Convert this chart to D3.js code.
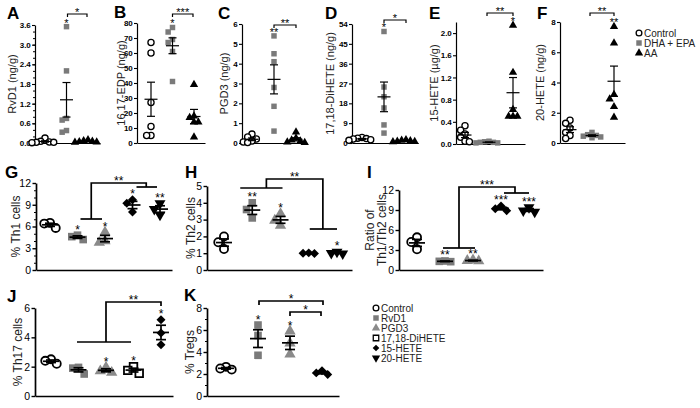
<!DOCTYPE html>
<html><head><meta charset="utf-8">
<script src="https://cdn.jsdelivr.net/npm/d3@7"></script>
<style>body{margin:0;background:#fff}svg{display:block}</style>
</head><body><svg id="c" width="700" height="408"></svg>
<script>
// ---------------- DATA ----------------
const topGroups = ["Control", "DHA + EPA", "AA"];
const ghiGroups = ["Control", "RvD1", "PGD3", "15-HETE", "20-HETE"];
const jGroups = ["Control", "RvD1", "PGD3", "17,18-DiHETE", "15-HETE"];
const kGroups = ["Control", "RvD1", "PGD3", "15-HETE"];
const legendTop = ["Control", "DHA + EPA", "AA"];
const legendBottom = ["Control", "RvD1", "PGD3", "17,18-DiHETE", "15-HETE", "20-HETE"];

// A: RvD1 (ng/g)
const rvd1Values = [[0.15, 0.05, 0.03, 0.02, 0.02, 0.01], [3.55, 2.2, 0.75, 0.7, 0.38, 0.33], [0.1, 0.07, 0.05, 0.04, 0.03, 0.02]];
// B: 16,17-EDP (ng/g)
const edpValues = [[67, 60, 27, 11, 5, 5], [77, 74, 69, 67, 61, 41], [39, 18, 17, 14, 14, 4]];
// C: PGD3 (ng/g)
const pgd3Values = [[0.45, 0.3, 0.2, 0.1, 0.05, 0.02], [5.4, 4.5, 4.1, 2.8, 1.85, 0.6], [0.55, 0.25, 0.15, 0.1, 0.05, 0.02]];
// D: 17,18-DiHETE (ng/g)
const diheteValues = [[2.5, 2.2, 2.0, 1.8, 1.5, 1.2], [50.6, 25.4, 21, 15.9, 8.2, 4.5], [1.5, 1.2, 1.0, 0.8, 0.6, 0.5]];
// E: 15-HETE (ug/g)
const hete15Values = [[0.33, 0.25, 0.18, 0.12, 0.05, 0.04], [0.05, 0.04, 0.03, 0.03, 0.02, 0.02], [2.14, 1.29, 0.62, 0.5, 0.5, 0.5]];
// F: 20-HETE (ng/g)
const hete20Values = [[1.5, 1.3, 1.0, 0.7, 0.5, 0.3], [0.7, 0.55, 0.5, 0.45, 0.4, 0.35], [7.7, 6.6, 3.2, 2.9, 2.4, 1.7]];
// G: % Th1 cells
const th1Values = [[6.5, 6.4, 5.8], [4.8, 4.6, 4.2], [5.2, 4.0, 3.8], [9.7, 9.2, 8.0], [9.2, 8.4, 7.6]];
// H: % Th2 cells
const th2Values = [[2.0, 1.65, 1.25], [4.0, 3.6, 3.1], [3.35, 2.95, 2.65], [1.02, 1.0, 0.98], [1.08, 1.0, 0.97]];
// I: Ratio Th1/Th2
const ratioValues = [[4.9, 4.2, 3.1], [1.35, 1.3, 1.25], [1.5, 1.4, 1.35], [9.6, 9.2, 8.9], [9.4, 8.9, 8.7]];
// J: % Th17 cells
const th17Values = [[2.5, 2.4, 2.2], [1.95, 1.9, 1.5], [1.95, 1.7, 1.6], [2.0, 1.75, 1.55], [5.2, 4.3, 3.5]];
// K: % Tregs
const tregValues = [[2.65, 2.5, 2.4], [6.45, 5.5, 3.7], [5.9, 4.8, 3.8], [2.3, 2.1, 1.95]];

// tick labels
const ticksA = [0, 0.6, 1.2, 1.8, 2.4, 3.0, 3.6];
const ticksB = [0, 10, 20, 30, 40, 50, 60, 70, 80];
const ticksC = [0, 1, 2, 3, 4, 5, 6];
const ticksD = [0, 9, 18, 27, 36, 45, 54];
const ticksE = [0, 0.4, 0.8, 1.2, 1.6, 2.0];
const ticksF = [0, 2, 4, 6, 8];
const ticksG = [0, 3, 6, 9, 12];
const ticksH = [0, 1, 2, 3, 4, 5];
const ticksI = [0, 3, 6, 9, 12];
const ticksJ = [0, 2, 4, 6];
const ticksK = [0, 2, 4, 6, 8];

// significance labels above groups
const starsA = ["", "*", ""], starsB = ["", "*", ""], starsC = ["", "**", ""];
const starsD = ["", "*", ""], starsE = ["", "", "*"], starsF = ["", "", "**"];
const starsG = ["", "*", "*", "*", "**"];
const starsH = ["", "**", "*", "", "*"];
const starsI = ["", "**", "**", "***", "***"];
const starsJ = ["", "", "*", "*", "*"];
const starsK = ["", "*", "*", ""];

// ---------------- DRAW ----------------
const FONT = "'Liberation Sans', Arial, Helvetica, sans-serif";
const svg = d3.select("#c");

const styleOf = {
  "Control": {sym: "circle", fill: "#fff", stroke: "#000"},
  "DHA + EPA": {sym: "square", fill: "#7a7a7a"},
  "AA": {sym: "triangle", fill: "#000"},
  "RvD1": {sym: "square", fill: "#7a7a7a"},
  "PGD3": {sym: "triangle", fill: "#8a8a8a"},
  "17,18-DiHETE": {sym: "square", fill: "#fff", stroke: "#000"},
  "15-HETE": {sym: "diamond", fill: "#000"},
  "20-HETE": {sym: "invtri", fill: "#000"}
};
const sizes = {
  top: {circle: 30, square: 30, triangle: 30, diamond: 24, invtri: 30, sw: 1.3, m: 6.4},
  mid: {circle: 52, square: 58, triangle: 56, diamond: 40, invtri: 52, sw: 1.8, m: 8.4},
  leg: {circle: 26, square: 30, triangle: 30, diamond: 22, invtri: 30, sw: 1.3, m: 6}
};
function marker(sel, name, sz, x, y) {
  const st = styleOf[name];
  let type = d3.symbolCircle, rot = 0;
  if (st.sym === "square") type = d3.symbolSquare;
  if (st.sym === "triangle") type = d3.symbolTriangle;
  if (st.sym === "diamond") { type = d3.symbolSquare; rot = 45; }
  if (st.sym === "invtri") { type = d3.symbolTriangle; rot = 180; }
  sel.append("path")
    .attr("d", d3.symbol().type(type).size(sz[st.sym])())
    .attr("transform", `translate(${x},${y}) rotate(${rot})`)
    .attr("fill", st.fill)
    .attr("stroke", st.stroke || "none")
    .attr("stroke-width", st.stroke ? sz.sw : 0);
}
function swarm(vals, cx, y, m) {
  const step = m * 0.68;
  const pts = vals.map(v => ({v, py: y(v)})).sort((a, b) => a.py - b.py);
  const placed = [];
  pts.forEach(p => {
    for (let k = 0; k < 15; k++) {
      const off = k === 0 ? 0 : (k % 2 ? -1 : 1) * Math.ceil(k / 2) * step;
      const px = cx + off;
      if (!placed.some(q => Math.abs(q.px - px) < step * 0.9 && Math.abs(q.py - p.py) < m * 0.8)) { p.px = px; break; }
    }
    placed.push(p);
  });
  return placed;
}
function star(g, txt, x, yc, fs) {
  g.append("text").attr("x", x).attr("y", yc + fs * 0.58)
    .attr("text-anchor", "middle").attr("font-family", FONT)
    .attr("font-size", fs).attr("fill", "#000").text(txt);
}

function drawPanel(p) {
  const big = p.row === "mid";
  const sz = sizes[p.row];
  const g = svg.append("g");
  const y = d3.scaleLinear().domain(p.domain).range([p.yBot, p.yTop]);
  const x = d3.scalePoint().domain(p.groups).range(p.xr);
  const lw = big ? 1.7 : 1.2;

  // panel letter
  g.append("text").attr("x", p.letter[1]).attr("y", p.letter[2])
    .attr("font-family", FONT).attr("font-weight", "bold").attr("font-size", 17).text(p.letter[0]);

  // y axis
  const ya = g.append("g").attr("transform", `translate(${p.x0},0)`)
    .call(d3.axisLeft(y).tickValues(p.ticks).tickFormat(p.fmt || d3.format("d"))
      .tickSize(big ? 3.5 : 3).tickPadding(big ? 1.5 : 1.2).tickSizeOuter(0));
  ya.select(".domain").attr("stroke", "#000").attr("stroke-width", lw);
  ya.selectAll(".tick line").attr("stroke", "#000").attr("stroke-width", big ? 1.4 : 1.1);
  ya.selectAll(".tick text").attr("font-family", FONT).attr("fill", "#000")
    .attr("font-size", big ? 10.5 : 8).attr("font-weight", big ? "normal" : "bold");
  if (p.minor) {
    const mi = g.append("g").attr("transform", `translate(${p.x0},0)`)
      .call(d3.axisLeft(y).tickValues(p.minor).tickFormat("").tickSize(2).tickSizeOuter(0));
    mi.select(".domain").remove();
    mi.selectAll(".tick line").attr("stroke", "#000").attr("stroke-width", 1);
  }
  // x axis
  const xl = d3.scaleLinear().range([p.x0, p.x1]);
  const xa = g.append("g").attr("transform", `translate(0,${p.yBot})`)
    .call(d3.axisBottom(xl).tickValues([]).tickSizeOuter(0));
  xa.select(".domain").attr("stroke", "#000").attr("stroke-width", lw);

  // title
  const tfs = big ? 12 : 11;
  const titles = Array.isArray(p.title) ? p.title : [p.title];
  const txs = Array.isArray(p.tx) ? p.tx : [p.tx];
  titles.forEach((t, i) => {
    g.append("text")
      .attr("transform", `translate(${txs[i] + tfs * 0.36},${(p.yTop + p.yBot) / 2}) rotate(-90)`)
      .attr("text-anchor", "middle").attr("font-family", FONT).attr("font-size", tfs)
      .attr("fill", "#222").text(t);
  });

  // points
  p.groups.forEach((gn, i) => {
    const vals = p.values[i];
    const pts = swarm(vals, x(gn), y, sz.m);
    pts.forEach(pt => marker(g, gn, sz, pt.px, pt.py));
  });
  // mean +/- SEM
  const mw = big ? 8 : 6.5, cw = big ? 5 : 4;
  p.groups.forEach((gn, i) => {
    const vals = p.values[i];
    const mn = d3.mean(vals), se = d3.deviation(vals) / Math.sqrt(vals.length);
    const cx = x(gn);
    const lo = Math.max(p.domain[0], mn - se), hi = mn + se;
    const s = g.append("g").attr("stroke", "#000").attr("stroke-width", lw);
    s.append("line").attr("x1", cx - mw).attr("x2", cx + mw).attr("y1", y(mn)).attr("y2", y(mn));
    s.append("line").attr("x1", cx).attr("x2", cx).attr("y1", y(lo)).attr("y2", y(hi));
    s.append("line").attr("x1", cx - cw).attr("x2", cx + cw).attr("y1", y(hi)).attr("y2", y(hi));
    s.append("line").attr("x1", cx - cw).attr("x2", cx + cw).attr("y1", y(lo)).attr("y2", y(lo));
  });
  // stars above groups
  const sfs = big ? 12 : 11;
  p.groups.forEach((gn, i) => {
    if (!p.stars[i]) return;
    const mx = d3.max(p.values[i]);
    star(g, p.stars[i], x(gn), y(mx) - (big ? 8.5 : 6.5), sfs);
  });
  // brackets
  (p.brackets || []).forEach(b => {
    const bg = g.append("g").attr("stroke", "#000").attr("stroke-width", lw).attr("fill", "none");
    if (b.type === "simple") {
      const xa1 = x(p.groups[b.a]) + b.ins[0], xb1 = x(p.groups[b.b]) + b.ins[1];
      bg.append("path").attr("d", `M${xa1},${b.y + b.tick}V${b.y}H${xb1}V${b.y + b.tick}`);
      star(g, b.label, (xa1 + xb1) / 2, b.y - (big ? 4.5 : 4), sfs);
    } else {
      const lA = x(p.groups[b.left[0]]), lB = x(p.groups[b.left[1]]);
      const rA = x(p.groups[b.right[0]]), rB = x(p.groups[b.right[1]]);
      const lm = (lA + lB) / 2, rm = (rA + rB) / 2;
      bg.append("path").attr("d", `M${lA + b.lext[0]},${b.ly}H${lB + b.lext[1]}`);
      if (rB > rA) bg.append("path").attr("d", `M${rA + b.rext[0]},${b.ry}H${rB + b.rext[1]}`);
      bg.append("path").attr("d", `M${lm},${b.ly}V${b.ty}H${rm}V${b.ry}`);
      star(g, b.label, (lm + rm) / 2, b.ty - 5, sfs);
    }
  });
}

const f1 = d3.format(".1f");
const topPanels = [
  {letter: ["A", 7, 19], x0: 35, x1: 100, yTop: 25, yBot: 143, domain: [0, 3.6], ticks: ticksA, fmt: f1,
   minor: d3.range(0.2, 3.6, 0.2), title: "RvD1 (ng/g)", tx: 12, xr: [45, 88], values: rvd1Values, stars: starsA,
   brackets: [{type: "simple", a: 1, b: 2, ins: [1, -1], y: 14, tick: 3, label: "*"}]},
  {letter: ["B", 114, 18], x0: 137, x1: 205, yTop: 23, yBot: 143, domain: [0, 80], ticks: ticksB,
   title: "16,17-EDP (ng/g)", tx: 121, xr: [151, 194], values: edpValues, stars: starsB,
   brackets: [{type: "simple", a: 1, b: 2, ins: [0, -1], y: 14, tick: 3, label: "***"}]},
  {letter: ["C", 218, 19], x0: 242, x1: 307, yTop: 24, yBot: 143, domain: [0, 6], ticks: ticksC,
   title: "PGD3 (ng/g)", tx: 224, xr: [252, 296], values: pgd3Values, stars: starsC,
   brackets: [{type: "simple", a: 1, b: 2, ins: [0, 0], y: 25, tick: 3, label: "**"}]},
  {letter: ["D", 325, 19], x0: 352, x1: 418, yTop: 24, yBot: 143, domain: [0, 54], ticks: ticksD,
   title: "17,18-DiHETE (ng/g)", tx: 330, xr: [362, 406], values: diheteValues, stars: starsD,
   brackets: [{type: "simple", a: 1, b: 2, ins: [0, 0], y: 20, tick: 3, label: "*"}]},
  {letter: ["E", 429, 19], x0: 456, x1: 525, yTop: 22, yBot: 144, domain: [0, 2.2], ticks: ticksE, fmt: f1,
   title: "15-HETE (\u00b5g/g)", tx: 434, xr: [465, 513], values: hete15Values, stars: starsE,
   brackets: [{type: "simple", a: 1, b: 2, ins: [-2, 0], y: 13, tick: 3, label: "**"}]},
  {letter: ["F", 537, 19], x0: 560, x1: 625, yTop: 22, yBot: 143, domain: [0, 8], ticks: ticksF,
   title: "20-HETE (ng/g)", tx: 540, xr: [570, 614], values: hete20Values, stars: starsF,
   brackets: [{type: "simple", a: 1, b: 2, ins: [-2, 0], y: 13, tick: 3, label: "**"}]}
];
topPanels.forEach(p => { p.row = "top"; p.groups = topGroups; drawPanel(p); });

const midPanels = [
  {letter: ["G", 5, 178], x0: 36, x1: 172, yTop: 183, yBot: 270, domain: [0, 12], ticks: ticksG,
   minor: [1, 2, 4, 5, 7, 8, 10, 11], groups: ghiGroups,
   title: "% Th1 cells", tx: 16, xr: [50, 160], values: th1Values, stars: starsG,
   brackets: [{type: "complex", left: [1, 2], ly: 219, lext: [3, -3], right: [3, 4], ry: 187, rext: [4, -3], ty: 183, label: "**"}]},
  {letter: ["H", 185, 178], x0: 207, x1: 352, yTop: 186, yBot: 270, domain: [0, 5], ticks: ticksH, groups: ghiGroups,
   title: "% Th2 cells", tx: 191, xr: [224, 337], values: th2Values, stars: starsH,
   brackets: [{type: "complex", left: [1, 2], ly: 188, lext: [-12, 2], right: [3, 4], ry: 229, rext: [1, 0], ty: 179, label: "**"}]},
  {letter: ["I", 367, 178], x0: 399, x1: 543, yTop: 190, yBot: 270, domain: [0, 12], ticks: ticksI, groups: ghiGroups,
   title: ["Ratio of", "Th1/Th2 cells"], tx: [370, 382], xr: [417, 529], values: ratioValues, stars: starsI,
   brackets: [{type: "complex", left: [1, 2], ly: 248, lext: [-2, 2], right: [3, 4], ry: 193, rext: [3, 0], ty: 187, label: "***"}]},
  {letter: ["J", 7, 302], x0: 35, x1: 173, yTop: 308, yBot: 396, domain: [0, 6], ticks: ticksJ, groups: jGroups,
   title: "% Th17 cells", tx: 18, xr: [51, 161], values: th17Values, stars: starsJ,
   brackets: [{type: "complex", left: [1, 3], ly: 342, lext: [-1.5, -2.5], right: [4, 4], ry: 306, rext: [0, 0], ty: 302, label: "**"}]},
  {letter: ["K", 184, 301], x0: 207, x1: 339, yTop: 308, yBot: 396, domain: [0, 8], ticks: ticksK,
   minor: [1, 3, 5, 7], groups: kGroups,
   title: "% Tregs", tx: 190, xr: [226, 322], values: tregValues, stars: starsK,
   brackets: [{type: "simple", a: 1, b: 3, ins: [1, 1], y: 301, tick: 4, label: "*"},
              {type: "simple", a: 2, b: 3, ins: [0, -1], y: 312, tick: 4, label: "*"}]}
];
midPanels.forEach(p => { p.row = "mid"; drawPanel(p); });

// legends
function legend(names, x0, y0, dy) {
  const g = svg.append("g");
  const ly = d3.scalePoint().domain(names).range([y0, y0 + dy * (names.length - 1)]);
  names.forEach(n => {
    marker(g, n, sizes.leg, x0, ly(n));
    g.append("text").attr("x", x0 + 5).attr("y", ly(n) + 3.6)
      .attr("font-family", FONT).attr("font-size", 10).attr("fill", "#222").text(n);
  });
}
legend(legendTop, 639, 33, 10);
legend(legendBottom, 376, 308, 10);
</script></body></html>
